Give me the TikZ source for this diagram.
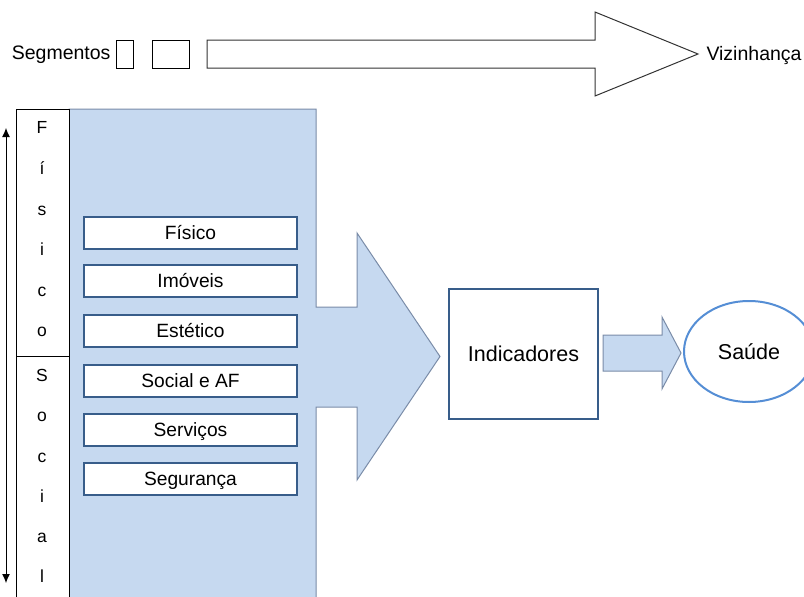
\documentclass[tikz,border=0pt]{standalone}
\usepackage{fontspec}
\setmainfont{Liberation Sans}
\usetikzlibrary{shapes.geometric,arrows.meta}
\definecolor{azulclaro}{HTML}{C6D9F0}
\definecolor{azulescuro}{HTML}{385D8A}
\definecolor{azulmedio}{HTML}{558ED5}
\definecolor{bordacinza}{HTML}{7A8CA8}

\begin{document}
\begin{tikzpicture}[x=1pt,y=-1pt,line width=1pt]
\tikzset{caixa/.style={draw=azulescuro, line width=2pt, fill=white, minimum width=213pt, minimum height=32pt, inner sep=0pt, text height=13.6pt, text depth=0pt, font=\fontsize{19.2}{22}\selectfont}}
\tikzset{letra/.style={anchor=base, inner sep=0pt, font=\fontsize{17.5}{20}\selectfont}}
\tikzset{rotulo/.style={inner sep=0pt, font=\fontsize{19.5}{22}\selectfont}}
\tikzset{seg/.style={draw, fill=white, minimum height=28pt, inner sep=0pt}}
\useasboundingbox (0,0) rectangle (804,597);
\clip (0,0) rectangle (804,597);
\filldraw[fill=azulclaro, draw=bordacinza] (69,597) -- (69,109) -- (316,109) -- (316,307) -- (357,307) -- (357,233) -- (440,356.5) -- (357,480) -- (357,407) -- (316,407) -- (316,597);
\draw[fill=white] (16,597) -- (16,109) -- (69,109) -- (69,597);
\draw (16,356) -- (69,356);
\draw[draw=black!80] (207,40) -- (595,40) -- (595,12) -- (698,54) -- (595,96) -- (595,68) -- (207,68) -- cycle;
\filldraw[fill=azulclaro, draw=bordacinza] (603,335) -- (662,335) -- (662,317) -- (681,353) -- (662,389) -- (662,371) -- (603,371) -- cycle;
\node[rotulo, anchor=base east] (segmentos) at (111,59) {Segmentos};
\node[seg, minimum width=17pt] (seg1) at (125,54) {};
\node[seg, minimum width=37pt] (seg2) at (171,54) {};
\node[rotulo, anchor=base west] (vizinhanca) at (706,60) {Vizinhança};
\coordinate (topo) at (6,128);
\coordinate (base) at (6,583);
\draw[{Latex[length=9pt,width=8pt]}-{Latex[length=9pt,width=8pt]}] (topo) -- (base);
\node[letra] (F1) at (42,133) {F};
\node[letra] (F2) at (42,174) {í};
\node[letra] (F3) at (42,215) {s};
\node[letra] (F4) at (42,255) {i};
\node[letra] (F5) at (42,296) {c};
\node[letra] (F6) at (42,336) {o};
\node[letra] (S1) at (42,381) {S};
\node[letra] (S2) at (42,421) {o};
\node[letra] (S3) at (42,462) {c};
\node[letra] (S4) at (42,502) {i};
\node[letra] (S5) at (42,542) {a};
\node[letra] (S6) at (42,582) {l};
\node[caixa] (fisico) at (190.5,233) {Físico};
\node[caixa] (imoveis) at (190.5,281) {Imóveis};
\node[caixa] (estetico) at (190.5,331) {Estético};
\node[caixa] (social) at (190.5,381) {Social e AF};
\node[caixa] (servicos) at (190.5,430) {Serviços};
\node[caixa] (seguranca) at (190.5,478.5) {Segurança};
\node[draw=azulescuro, line width=2pt, minimum width=149pt, minimum height=130pt, inner sep=0pt, text height=15.4pt, text depth=0pt, font=\fontsize{21.5}{25}\selectfont] (indicadores) at (523.5,354) {Indicadores};
\node[ellipse, draw=azulmedio, line width=2pt, fill=white, minimum width=130pt, minimum height=101pt, inner sep=0pt, text height=15.4pt, text depth=0pt, font=\fontsize{21.5}{25}\selectfont] (saude) at (749,351.5) {Saúde};
\end{tikzpicture}
\end{document}
